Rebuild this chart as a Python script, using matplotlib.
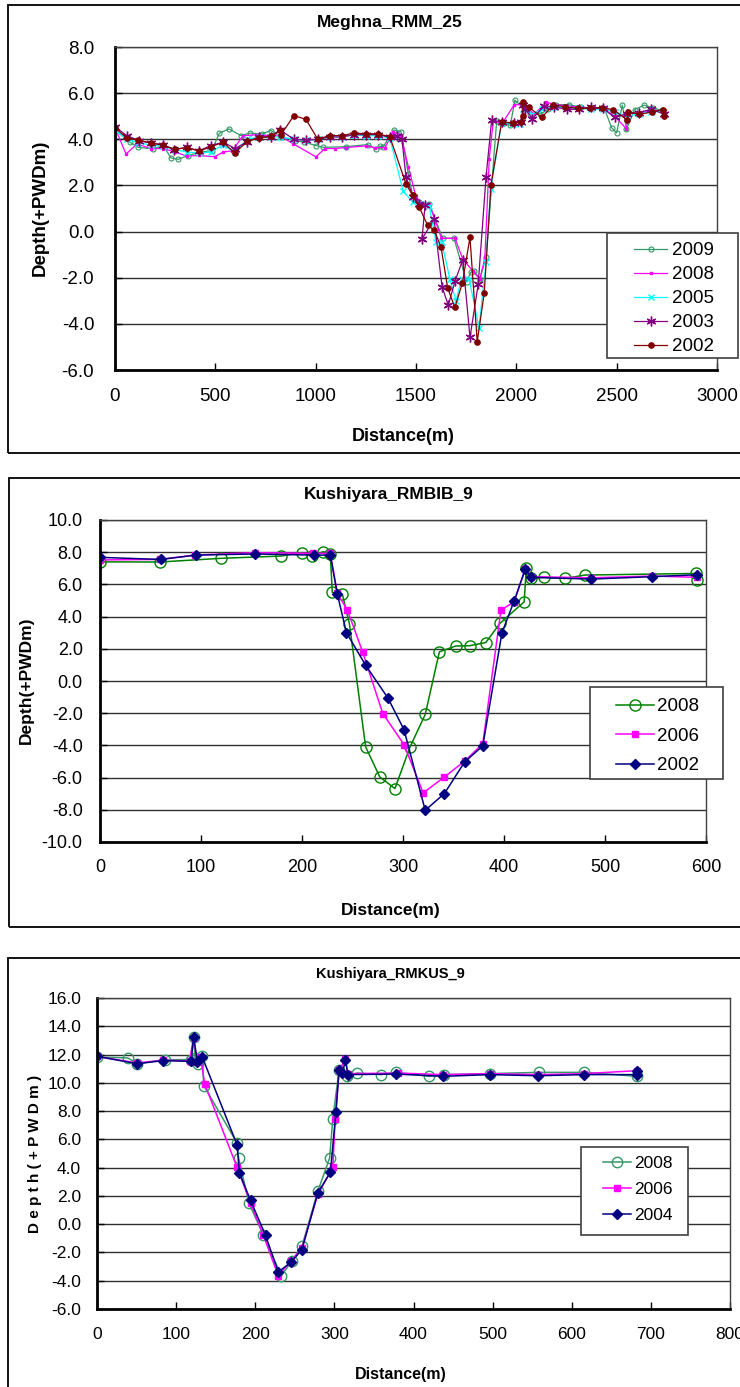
import matplotlib.pyplot as plt
from matplotlib.patches import Rectangle
from matplotlib.ticker import FormatStrFormatter, MultipleLocator

plt.rcParams['axes.unicode_minus'] = False

W, H = 740, 1387
ARIAL = ['Liberation Sans', 'DejaVu Sans']
NARROW = ['Liberation Sans Narrow', 'Liberation Sans', 'DejaVu Sans']

# ---------------- Meghna_RMM_25 ----------------
m09_d = [0, 75, 116, 191, 241, 279, 315, 362, 423, 482, 520, 568, 628, 672, 731, 777, 827, 897, 944, 1001,
         1038, 1149, 1259, 1301, 1320, 1337, 1390, 1425, 1462, 1483, 1516, 1566, 1633, 1689, 1752, 1773, 1789,
         1818, 1849, 1902, 1940, 1970, 1993, 2040, 2070, 2120, 2160, 2200, 2260, 2320, 2380, 2440, 2475, 2500,
         2528, 2549, 2591, 2637, 2682, 2724]
m09_v = [4.4, 3.87, 3.65, 3.58, 3.73, 3.19, 3.13, 3.29, 3.44, 3.51, 4.26, 4.45, 4.16, 4.27, 4.23, 4.38, 4.12,
         3.94, 3.87, 3.73, 3.65, 3.68, 3.77, 3.58, 3.7, 3.68, 4.4, 4.33, 2.5, 1.57, 1.28, 1.2, -0.29, -0.29,
         -2.17, -1.77, -1.7, -2.06, -1.12, 4.78, 4.7, 4.6, 5.7, 5.3, 5.1, 5.1, 5.3, 5.5, 5.5, 5.4, 5.35, 5.3,
         4.5, 4.28, 5.48, 4.45, 5.29, 5.48, 5.36, 5.25]

m08_d = [0, 55, 110, 178, 240, 300, 357, 418, 496, 540, 585, 637, 703, 777, 822, 889, 1001, 1046, 1096, 1149,
         1249, 1296, 1345, 1387, 1425, 1462, 1500, 1530, 1566, 1627, 1694, 1733, 1782, 1818, 1843, 1865, 1885,
         1930, 1990, 2030, 2090, 2150, 2200, 2250, 2310, 2370, 2430, 2490, 2549, 2560, 2610, 2670, 2735]
m08_v = [4.5, 3.36, 3.8, 3.6, 3.6, 3.45, 3.27, 3.3, 3.24, 3.45, 3.5, 4.15, 4.2, 4.15, 4.15, 3.8, 3.24, 3.6, 3.6,
         3.64, 3.71, 3.64, 3.64, 4.3, 4.2, 2.8, 1.5, 1.2, 1.2, -0.29, -0.29, -1.19, -1.7, -2.06, -1.16, 3.16,
         4.78, 4.7, 5.5, 5.5, 5.1, 5.6, 5.5, 5.45, 5.4, 5.35, 5.35, 5.0, 4.45, 5.2, 5.05, 5.3, 5.2]

m05_d = [0, 58, 116, 178, 238, 299, 357, 418, 477, 537, 598, 659, 718, 777, 822, 892, 952, 1010, 1071, 1132,
         1191, 1249, 1312, 1370, 1436, 1483, 1516, 1566, 1600, 1628, 1669, 1699, 1727, 1765, 1814, 1849, 1872,
         1927, 1985, 2020, 2035, 2080, 2130, 2190, 2250, 2310, 2370, 2430, 2490, 2550, 2610, 2670, 2735]
m05_v = [4.4, 4.0, 3.85, 3.75, 3.7, 3.55, 3.45, 3.4, 3.45, 3.75, 3.45, 4.0, 4.1, 4.1, 4.1, 4.0, 3.95, 4.0, 4.1,
         4.1, 4.2, 4.15, 4.15, 4.05, 1.74, 1.3, 1.2, 1.1, -0.45, -0.46, -2.06, -3.0, -2.06, -2.06, -4.16, -1.33,
         1.83, 4.72, 4.65, 4.65, 5.3, 5.1, 5.3, 5.4, 5.35, 5.35, 5.3, 5.3, 5.2, 5.0, 5.1, 5.2, 5.2]

m03_d = [0, 58, 121, 178, 237, 296, 357, 420, 477, 540, 598, 659, 718, 777, 822, 892, 952, 1010, 1071, 1132,
         1191, 1249, 1312, 1370, 1403, 1430, 1450, 1486, 1516, 1545, 1530, 1590, 1630, 1661, 1694, 1733, 1769,
         1810, 1849, 1877, 1930, 1990, 2025, 2035, 2045, 2080, 2140, 2190, 2250, 2310, 2370, 2430, 2490, 2550,
         2610, 2670, 2735]
m03_v = [4.55, 4.16, 3.94, 3.84, 3.77, 3.55, 3.65, 3.5, 3.73, 3.87, 3.6, 3.9, 4.1, 4.1, 4.4, 4.0, 3.95, 4.0,
         4.1, 4.1, 4.2, 4.2, 4.2, 4.08, 4.15, 4.0, 2.36, 1.5, 1.2, 1.15, -0.33, 0.55, -2.4, -3.19, -2.16, -1.22,
         -4.59, -2.28, 2.36, 4.83, 4.75, 4.7, 4.75, 5.5, 5.3, 4.9, 5.45, 5.4, 5.3, 5.3, 5.4, 5.35, 4.95, 5.1,
         5.15, 5.3, 5.1]

m02_d = [0, 58, 116, 178, 238, 299, 357, 418, 477, 537, 598, 659, 718, 777, 822, 827, 892, 952, 1010, 1071,
         1132, 1191, 1249, 1312, 1370, 1450, 1483, 1516, 1558, 1591, 1625, 1658, 1694, 1731, 1769, 1805, 1840,
         1874, 1927, 1985, 2023, 2034, 2031, 2064, 2127, 2184, 2245, 2307, 2367, 2425, 2483, 2553, 2558, 2613,
         2674, 2732, 2735]
m02_v = [4.5, 4.06, 3.96, 3.84, 3.74, 3.57, 3.64, 3.49, 3.67, 3.87, 3.41, 3.91, 4.06, 4.13, 4.39, 4.2, 5.03,
         4.86, 4.01, 4.16, 4.16, 4.27, 4.24, 4.24, 4.1, 2.07, 1.57, 1.06, 0.27, 0.06, -0.68, -2.46, -3.29,
         -2.23, -0.25, -4.77, -2.67, 2.04, 4.76, 4.69, 4.76, 5.02, 5.6, 5.38, 4.95, 5.48, 5.41, 5.34, 5.34,
         5.36, 5.29, 4.83, 5.19, 5.08, 5.18, 5.29, 5.03]

# ---------------- Kushiyara_RMBIB_9 ----------------
b08_d = [0, 59, 120, 179, 200, 210, 221, 228, 230, 240, 247, 263, 277, 292, 307, 322, 336, 352, 366, 382, 396,
         420, 422, 427, 440, 460, 480, 590, 591]
b08_v = [7.4, 7.39, 7.62, 7.76, 7.97, 7.78, 8.03, 7.87, 5.5, 5.38, 3.53, -4.09, -5.96, -6.68, -4.09, -2.08,
         1.81, 2.17, 2.19, 2.39, 3.58, 4.92, 7.0, 6.37, 6.44, 6.37, 6.58, 6.68, 6.3]
b06_d = [0, 59, 94, 153, 211, 228, 235, 245, 260, 280, 301, 320, 341, 361, 379, 397, 410, 421, 427, 486, 547, 591]
b06_v = [7.52, 7.55, 7.82, 7.97, 7.93, 7.93, 5.44, 4.4, 1.81, -2.02, -3.95, -6.95, -5.96, -4.98, -3.89, 4.4,
         4.92, 6.95, 6.48, 6.41, 6.52, 6.44]
b02_d = [0, 60, 95, 153, 212, 228, 235, 244, 263, 285, 301, 322, 341, 361, 379, 398, 410, 421, 427, 486, 547, 591]
b02_v = [7.68, 7.55, 7.82, 7.89, 7.82, 7.82, 5.4, 3.0, 0.98, -1.05, -3.02, -8.03, -6.99, -5.03, -4.03, 3.0,
         4.96, 6.93, 6.44, 6.33, 6.48, 6.6]

# ---------------- Kushiyara_RMKUS_9 ----------------
k08_d = [0, 39, 51, 86, 119, 122, 124, 128, 133, 135, 177, 179, 192, 210, 233, 246, 259, 279, 294, 298, 306,
         316, 329, 359, 378, 419, 439, 497, 558, 616, 682]
k08_v = [11.83, 11.76, 11.35, 11.64, 11.64, 13.24, 11.76, 11.35, 11.92, 9.8, 5.74, 4.68, 1.5, -0.74, -3.64,
         -2.63, -1.57, 2.32, 4.68, 7.44, 10.93, 10.5, 10.69, 10.58, 10.74, 10.46, 10.58, 10.65, 10.74, 10.74,
         10.46]
k06_d = [0, 51, 83, 117, 122, 127, 131, 136, 177, 194, 210, 229, 245, 259, 279, 298, 301, 306, 314, 317, 381,
         437, 497, 557, 616, 682]
k06_v = [11.87, 11.4, 11.6, 11.55, 13.2, 11.5, 11.8, 9.94, 4.02, 1.5, -0.74, -3.64, -2.63, -1.68, 2.1, 4.02,
         7.44, 10.88, 11.7, 10.65, 10.69, 10.58, 10.65, 10.58, 10.65, 10.86]
k04_d = [0, 51, 83, 119, 122, 127, 133, 177, 180, 194, 213, 229, 245, 259, 279, 295, 302, 306, 310, 314, 317,
         378, 437, 497, 557, 616, 682, 682]
k04_v = [11.87, 11.35, 11.57, 11.52, 13.24, 11.47, 11.83, 5.62, 3.62, 1.69, -0.79, -3.38, -2.7, -1.8, 2.21,
         3.67, 7.94, 10.93, 10.7, 11.59, 10.58, 10.62, 10.46, 10.58, 10.5, 10.58, 10.58, 10.86]


def fx(x):
    return x / W


def fy(y):
    return 1 - y / H


def panel_box(fig, x0, y0, x1, y1):
    fig.patches.append(Rectangle((fx(x0), fy(y1)), (x1 - x0) / W, (y1 - y0) / H, transform=fig.transFigure,
                                 fill=False, lw=1.3, ec='black'))


def make_axes(fig, left, top, right, bottom, xmax, xstep, ymin, ymax, fam, fs, xpad, ypad):
    ax = fig.add_axes([fx(left), fy(bottom), (right - left) / W, (bottom - top) / H])
    ax.set_xlim(0, xmax)
    ax.set_ylim(ymin, ymax)
    ax.xaxis.set_major_locator(MultipleLocator(xstep))
    ax.yaxis.set_major_locator(MultipleLocator(2))
    ax.yaxis.set_major_formatter(FormatStrFormatter('%.1f'))
    ax.grid(axis='y', color='#303030', lw=1.0)
    ax.set_axisbelow(True)
    ax.tick_params(direction='in', length=5, width=1, labelsize=fs, labelfontfamily=fam)
    ax.tick_params(axis='x', pad=xpad)
    ax.tick_params(axis='y', pad=ypad)
    for s in ['left', 'bottom']:
        ax.spines[s].set_linewidth(2)
    for s in ['top', 'right']:
        ax.spines[s].set_linewidth(1)
        ax.spines[s].set_color('#404040')
    return ax


def add_legend(fig, ax, hx, top, box, fs, fam, hl, ls, htp):
    x0, y0, x1, y1 = box
    # legend frame lives in the axes so it stays under the legend itself
    ax.add_patch(Rectangle((fx(x0), fy(y1)), (x1 - x0) / W, (y1 - y0) / H, transform=fig.transFigure,
                           facecolor='white', lw=1.2, ec='#404040', zorder=5, clip_on=False))
    leg = ax.legend(loc='upper left', bbox_to_anchor=(fx(hx), fy(top)), bbox_transform=fig.transFigure,
                    frameon=False, borderpad=0, borderaxespad=0, handlelength=hl, labelspacing=ls,
                    handletextpad=htp, prop={'family': fam, 'size': fs})
    leg.set_zorder(6)


fig = plt.figure(figsize=(W / 100, H / 100), dpi=100)

# ---- panel 1 ----
panel_box(fig, 8, 5, 745, 453)
ax1 = make_axes(fig, 115, 47, 717, 370, 3000, 500, -6, 8, ARIAL, 13.5, 13, 15)
ax1.plot(m09_d, m09_v, color='#339966', lw=0.9, marker='o', ms=3.6, mfc='none', mew=0.8, label='2009')
ax1.plot(m08_d, m08_v, color='#FF00FF', lw=0.9, marker='s', ms=1.6, label='2008')
ax1.plot(m05_d, m05_v, color='#00FFFF', lw=0.9, marker='x', ms=4, mew=1, label='2005')
ax1.plot(m03_d, m03_v, color='#800080', lw=0.9, marker=(6, 2, 0), ms=7, mew=1, label='2003')
ax1.plot(m02_d, m02_v, color='#800000', lw=0.9, marker='o', ms=3.8, label='2002')
add_legend(fig, ax1, 634, 242, (607, 233, 738, 358), 13.5, ARIAL, 1.76, 0.37, 0.27)
fig.text(fx(390), fy(22), 'Meghna_RMM_25', ha='center', va='center', family=ARIAL, weight='bold', size=12.5)
fig.text(fx(40), fy(208), 'Depth(+PWDm)', ha='center', va='center', rotation=90, family=ARIAL,
         weight='bold', size=13.5)
fig.text(fx(403), fy(437), 'Distance(m)', ha='center', va='center', family=ARIAL, weight='bold', size=13)

# ---- panel 2 ----
panel_box(fig, 9, 478, 745, 927)
ax2 = make_axes(fig, 100, 520, 706, 842, 600, 100, -10, 10, ARIAL, 13, 12.5, 12.5)
ax2.plot(b08_d, b08_v, color='#008000', lw=1.1, marker='o', ms=8, mfc='none', mew=1, label='2008')
ax2.plot(b06_d, b06_v, color='#FF00FF', lw=1.1, marker='s', ms=5, label='2006')
ax2.plot(b02_d, b02_v, color='#000080', lw=1.1, marker='D', ms=5, label='2002')
add_legend(fig, ax2, 616, 698, (590, 687, 723, 779), 13.5, ARIAL, 2.0, 0.66, 0.2)
fig.text(fx(389), fy(495), 'Kushiyara_RMBIB_9', ha='center', va='center', family=ARIAL, weight='bold', size=12.5)
fig.text(fx(26), fy(680), 'Depth(+PWDm)', ha='center', va='center', rotation=90, family=ARIAL,
         weight='bold', size=12.5)
fig.text(fx(391), fy(910), 'Distance(m)', ha='center', va='center', family=ARIAL, weight='bold', size=12.5)

# ---- panel 3 ----
panel_box(fig, 8, 958, 745, 1400)
ax3 = make_axes(fig, 97, 998, 730, 1309, 800, 100, -6, 16, NARROW, 12.5, 13, 11.5)
ax3.plot(k08_d, k08_v, color='#339966', lw=1.1, marker='o', ms=7.5, mfc='none', mew=1, label='2008')
ax3.plot(k06_d, k06_v, color='#FF00FF', lw=1.1, marker='s', ms=4.8, label='2006')
ax3.plot(k04_d, k04_v, color='#000080', lw=1.1, marker='D', ms=4.8, label='2004')
add_legend(fig, ax3, 603, 1156, (581, 1147, 688, 1235), 12.5, NARROW, 1.6, 0.62, 0.22)
fig.text(fx(390), fy(974), 'Kushiyara_RMKUS_9', ha='center', va='center', family=NARROW, weight='bold', size=10.5)
fig.text(fx(35), fy(1154), 'D e p t h ( + P W D m )', ha='center', va='center', rotation=90, family=NARROW,
         weight='bold', size=11)
fig.text(fx(401), fy(1375), 'Distance(m)', ha='center', va='center', family=NARROW, weight='bold', size=11.5)

fig.savefig('out.png', dpi=100)
